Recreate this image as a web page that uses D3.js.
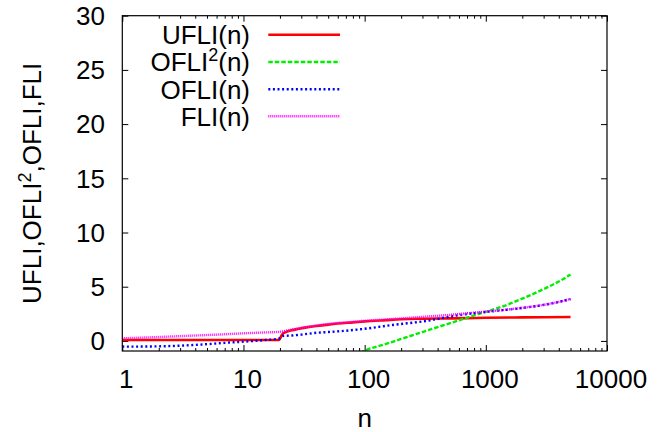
<!DOCTYPE html>
<html>
<head>
<meta charset="utf-8">
<script src="https://cdn.jsdelivr.net/npm/d3@7"></script>
<style>
  html, body { margin: 0; padding: 0; background: #fff; }
  svg { display: block; }
  text { font-family: "Liberation Sans", Arial, Helvetica, sans-serif; fill: #000; }
</style>
</head>
<body>
<svg id="chart" width="667" height="432"></svg>
<script>
// ---------- data ----------
const xTickValues = [1, 10, 100, 1000, 10000];
const xTickLabels = ["1", "10", "100", "1000", "10000"];
const yTickValues = [0, 5, 10, 15, 20, 25, 30];
const yTickLabels = ["0", "5", "10", "15", "20", "25", "30"];

const ufliN = [1, 5, 10, 19.5, 20, 20.5, 21, 22, 23, 25, 28, 33, 40, 50, 60, 80, 100, 150, 200, 300, 500, 700, 1000, 2000, 3000, 5000];
const ufliV = [0.08, 0.08, 0.08, 0.08, 0.2, 0.45, 0.62, 0.78, 0.87, 0.98, 1.1, 1.25, 1.38, 1.5, 1.6, 1.71, 1.8, 1.92, 2.0, 2.05, 2.08, 2.1, 2.14, 2.17, 2.18, 2.2];

const ofli2N = [92, 100, 150, 200, 300, 400, 600, 800, 1000, 1500, 2000, 3000, 4000, 5000];
const ofli2V = [-1.1, -0.9, -0.28, 0.18, 0.82, 1.27, 1.9, 2.35, 2.68, 3.33, 3.9, 4.78, 5.48, 6.12];

const ofliN = [1, 2, 3, 5, 7, 10, 15, 19.5, 20, 21, 25, 30, 40, 50, 70, 100, 170, 320, 600, 1000, 1500, 2000, 3000, 4000, 5000];
const ofliV = [-0.53, -0.5, -0.44, -0.3, -0.18, -0.07, 0.08, 0.2, 0.3, 0.45, 0.5, 0.58, 0.75, 0.82, 0.94, 1.12, 1.47, 1.84, 2.38, 2.68, 2.88, 3.04, 3.32, 3.6, 3.85];

const fliN = [1, 2, 3, 5, 7, 10, 15, 20, 22, 25, 30, 40, 55, 80, 110, 150, 200, 300, 500, 700, 1000, 1500, 2000, 3000, 4000, 5000];
const fliV = [0.24, 0.36, 0.44, 0.54, 0.61, 0.7, 0.78, 0.84, 0.92, 1.05, 1.2, 1.42, 1.62, 1.76, 1.9, 1.98, 2.08, 2.22, 2.4, 2.55, 2.7, 2.9, 3.05, 3.33, 3.6, 3.87];

const legendBase = ["UFLI", "OFLI", "OFLI", "FLI"];
const legendSup = ["", "2", "", ""];
const legendTail = "(n)";

// ---------- layout ----------
const L = 122.3, R = 607, T = 15.7, B = 351;
const FS = 26, SUP = 18;
const svg = d3.select("#chart");

const x = d3.scaleLog().domain([1, 10000]).range([L, R]);
const y = d3.scaleLinear().domain([-0.93, 30]).range([B, T]);

const series = [
  { n: ufliN, v: ufliV, color: "#ff0000", width: 2.6, dash: null },
  { n: ofli2N, v: ofli2V, color: "#00ee00", width: 2.4, dash: "4.5,2" },
  { n: ofliN, v: ofliV, color: "#0000ff", width: 2.4, dash: "2,2.6" },
  { n: fliN, v: fliV, color: "#ff00ff", width: 2.4, dash: "1,1" }
];

// clip
svg.append("defs").append("clipPath").attr("id", "plotclip")
  .append("rect").attr("x", L).attr("y", T).attr("width", R - L).attr("height", B - T);

// minor x ticks
const minorX = [];
[1, 10, 100, 1000].forEach(d => { for (let k = 2; k <= 9; k++) minorX.push(d * k); });

// axes (ticks, inward, all four sides)
function tickAxis(gen, tv, size, tr) {
  const g = svg.append("g").attr("transform", tr)
    .call(gen.tickValues(tv).tickSize(size).tickFormat(""));
  g.select(".domain").remove();
  g.selectAll("line").attr("stroke", "#000").attr("stroke-width", 1);
}
tickAxis(d3.axisBottom(x), xTickValues, -6, `translate(0,${B})`);
tickAxis(d3.axisBottom(x), minorX, -3, `translate(0,${B})`);
tickAxis(d3.axisTop(x), xTickValues, -6, `translate(0,${T})`);
tickAxis(d3.axisTop(x), minorX, -3, `translate(0,${T})`);
tickAxis(d3.axisLeft(y), yTickValues, -6, `translate(${L},0)`);
tickAxis(d3.axisRight(y), yTickValues, -6, `translate(${R},0)`);

// tick labels
svg.append("g").selectAll("text").data(xTickValues).join("text")
  .attr("x", d => x(d) + 4).attr("y", 388)
  .attr("text-anchor", "middle").attr("font-size", FS)
  .text((d, i) => xTickLabels[i]);
svg.append("g").selectAll("text").data(yTickValues).join("text")
  .attr("x", 105).attr("y", d => y(d) + 9.3)
  .attr("text-anchor", "end").attr("font-size", FS)
  .text((d, i) => yTickLabels[i]);

// axis titles
svg.append("text").attr("x", (L + R) / 2).attr("y", 427)
  .attr("text-anchor", "middle").attr("font-size", FS).text("n");
const yt = svg.append("text")
  .attr("transform", `translate(41,${(T + B) / 2}) rotate(-90)`)
  .attr("text-anchor", "middle").attr("font-size", FS);
yt.append("tspan").text("UFLI,OFLI");
yt.append("tspan").attr("font-size", SUP).attr("dy", -10).text("2");
yt.append("tspan").attr("font-size", FS).attr("dy", 10).text(",OFLI,FLI");

// lines
const line = d3.line().x(d => x(d[0])).y(d => y(d[1])).curve(d3.curveMonotoneX);
const plot = svg.append("g").attr("clip-path", "url(#plotclip)");
series.forEach(s => {
  plot.append("path")
    .datum(s.n.map((n, i) => [n, s.v[i]]))
    .attr("d", line)
    .attr("fill", "none")
    .attr("stroke", s.color)
    .attr("stroke-width", s.width)
    .attr("stroke-dasharray", s.dash)
    .attr("stroke-linejoin", "round");
});

// frame
svg.append("rect").attr("x", L).attr("y", T).attr("width", R - L).attr("height", B - T)
  .attr("fill", "none").attr("stroke", "#000").attr("stroke-width", 1.2);

// legend
const rowY = [34.7, 62, 89.3, 116.3];
series.forEach((s, i) => {
  const t = svg.append("text").attr("x", 250).attr("y", rowY[i] + 9.3)
    .attr("text-anchor", "end").attr("font-size", FS);
  t.append("tspan").text(legendBase[i]);
  if (legendSup[i]) {
    t.append("tspan").attr("font-size", SUP).attr("dy", -10).text(legendSup[i]);
    t.append("tspan").attr("font-size", FS).attr("dy", 10).text(legendTail);
  } else {
    t.append("tspan").text(legendTail);
  }
  svg.append("line")
    .attr("x1", 268.3).attr("x2", 340).attr("y1", rowY[i]).attr("y2", rowY[i])
    .attr("stroke", s.color).attr("stroke-width", s.width)
    .attr("stroke-dasharray", s.dash);
});
</script>
</body>
</html>
